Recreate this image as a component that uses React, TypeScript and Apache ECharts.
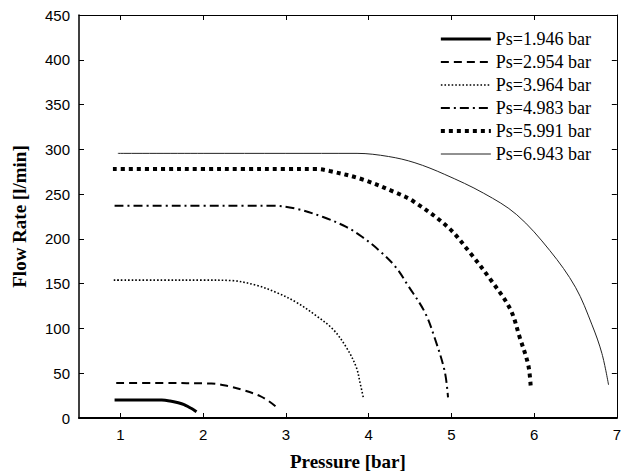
import React, { useEffect, useRef } from "react";
import * as echarts from "echarts";

const seriesNames = ["Ps=1.946 bar", "Ps=2.954 bar", "Ps=3.964 bar", "Ps=4.983 bar", "Ps=5.991 bar", "Ps=6.943 bar"];

const p1 = [0.93, 1.2, 1.5, 1.6, 1.7, 1.77, 1.83, 1.88, 1.92];
const q1 = [20, 20, 20, 19, 17, 15, 12, 9.5, 7];

const p2 = [0.95, 1.5, 2.1, 2.3, 2.5, 2.69, 2.79, 2.89];
const q2 = [39, 39, 38.5, 35.6, 30.8, 24.5, 19, 12];

const p3 = [0.92, 1.5, 2.0, 2.34, 2.65, 2.89, 3.13, 3.37, 3.57, 3.73, 3.85, 3.9, 3.94];
const q3 = [154, 154, 154, 153.5, 148, 140, 129, 114, 99, 79, 57, 38, 21];

const p4 = [0.93, 1.5, 2.0, 2.5, 2.85, 3.13, 3.45, 3.73, 3.92, 4.12, 4.32, 4.48, 4.68, 4.8, 4.92, 4.96];
const q4 = [237, 237, 237, 237, 237, 233.6, 224.4, 213.4, 202.4, 187.7, 169.4, 147.4, 118, 89, 52, 23];

const p5 = [0.91, 1.5, 2.0, 2.5, 3.0, 3.37, 3.53, 3.92, 4.32, 4.54, 4.96, 5.23, 5.47, 5.71, 5.83, 5.93, 5.96];
const q5 = [278, 278, 278, 278, 278, 278, 275.8, 266.6, 252, 242, 213, 184, 155, 122, 89, 59, 34];

const p6 = [0.97, 2.0, 3.0, 3.86, 4.24, 4.56, 4.92, 5.39, 5.79, 6.19, 6.5, 6.7, 6.82, 6.9];
const q6 = [295.5, 295.5, 295.5, 295.5, 292, 285, 272, 251, 227, 187, 146, 104, 72, 37];

const xTicks = [1, 2, 3, 4, 5, 6, 7];

const pressures = [p1, p2, p3, p4, p5, p6];
const flows = [q1, q2, q3, q4, q5, q6];

const lineStyles: any[] = [
  { width: 3, type: "solid", color: "#000" },
  { width: 2, type: [8, 5], color: "#000" },
  { width: 1.6, type: [1.6, 2], color: "#000" },
  { width: 2, type: [9, 4, 2, 4], color: "#000" },
  { width: 4, type: [4, 4], color: "#000" },
  { width: 1, type: "solid", color: "#222" },
];

export default function App() {
  const ref = useRef<HTMLDivElement>(null);
  useEffect(() => {
    if (!ref.current) return;
    const chart = echarts.init(ref.current, null, { renderer: "svg" });
    const tickLabel = { fontFamily: "Liberation Sans", fontSize: 15, color: "#000" };
    const nameStyle = { fontFamily: "Liberation Serif", fontSize: 19, fontWeight: "bold" as const, color: "#000" };
    const series = seriesNames.map((name, i) => ({
      name,
      type: "line",
      xAxisIndex: 0,
      yAxisIndex: 0,
      data: pressures[i].map((p, j) => [p, flows[i][j]]),
      symbol: "none",
      smooth: 0.35,
      lineStyle: { ...lineStyles[i], cap: "butt" },
      itemStyle: { color: lineStyles[i].color },
    }));
    chart.setOption({
      animation: false,
      backgroundColor: "#fff",
      grid: { left: 79, right: 1, top: 15, bottom: 52 },
      legend: {
        orient: "vertical",
        right: 28,
        top: 25,
        itemWidth: 50,
        itemHeight: 14,
        itemGap: 5,
        itemStyle: { opacity: 0 },
        textStyle: { fontFamily: "Liberation Serif", fontSize: 18, color: "#000" },
        data: seriesNames.map((name, i) => ({
          name,
          lineStyle: { width: lineStyles[i].width, type: lineStyles[i].type, color: lineStyles[i].color, cap: "butt" },
        })),
      },
      xAxis: [
        {
          type: "value",
          position: "bottom",
          min: 0.5,
          max: 7,
          name: "Pressure [bar]",
          nameLocation: "middle",
          nameGap: 34,
          nameTextStyle: nameStyle,
          axisLine: { show: true, lineStyle: { color: "#000", width: 2 } },
          axisTick: { show: true, inside: true, length: 5, customValues: xTicks, lineStyle: { color: "#000" } },
          axisLabel: { show: true, margin: 9, customValues: xTicks, ...tickLabel },
          splitLine: { show: false },
        },
        {
          type: "value",
          position: "top",
          min: 0.5,
          max: 7,
          axisLine: { show: true, onZero: false, lineStyle: { color: "#000", width: 1 } },
          axisTick: { show: true, inside: true, length: 5, customValues: xTicks, lineStyle: { color: "#000" } },
          axisLabel: { show: false },
          splitLine: { show: false },
        },
      ],
      yAxis: [
        {
          type: "value",
          position: "left",
          min: 0,
          max: 450,
          interval: 50,
          name: "Flow Rate [l/min]",
          nameLocation: "middle",
          nameGap: 50,
          nameTextStyle: nameStyle,
          axisLine: { show: true, lineStyle: { color: "#000", width: 1.5 } },
          axisTick: { show: true, inside: true, length: 5, lineStyle: { color: "#000" } },
          axisLabel: { show: true, margin: 9, ...tickLabel },
          splitLine: { show: false },
        },
        {
          type: "value",
          position: "right",
          min: 0,
          max: 450,
          interval: 50,
          axisLine: { show: true, onZero: false, lineStyle: { color: "#000", width: 1 } },
          axisTick: { show: true, inside: true, length: 5, lineStyle: { color: "#000" } },
          axisLabel: { show: false },
          splitLine: { show: false },
        },
      ],
      series,
    });
    return () => chart.dispose();
  }, []);
  return <div ref={ref} style={{ position: "absolute", left: 0, top: 0, width: 624, height: 476 }} />;
}
